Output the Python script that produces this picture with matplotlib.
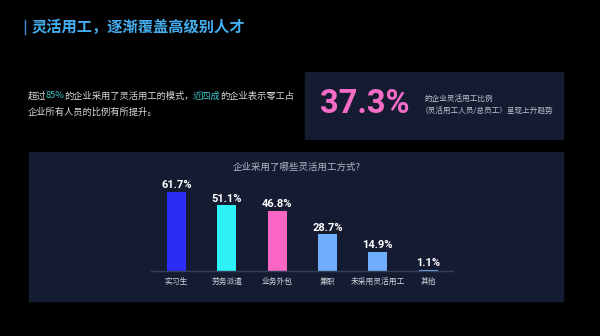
import matplotlib
matplotlib.use('Agg')
import matplotlib.pyplot as plt
from matplotlib.patches import Rectangle

plt.rcParams['font.family'] = ['Noto Sans CJK SC', 'DejaVu Sans']

# dane
categories = ['实习生', '劳务派遣', '业务外包', '兼职', '未采用灵活用工', '其他']
values = [61.7, 51.1, 46.8, 28.7, 14.9, 1.1]
bar_colors = ['#2b2cf5', '#2ef0f7', '#fb66c4', '#6eaefc', '#6eaefc', '#6eaefc']

W, H = 600, 336
fig = plt.figure(figsize=(6, 3.36), dpi=100, facecolor='black')

# warstwa tla w pikselach (y od gory)
bg = fig.add_axes([0, 0, 1, 1])
bg.set_xlim(0, W)
bg.set_ylim(H, 0)
bg.axis('off')

panel = '#151c32'
bg.add_patch(Rectangle((305, 72), 258, 67, color=panel))
bg.add_patch(Rectangle((29, 152), 534, 149, color=panel))

# tytul
bg.plot([25, 25], [20, 34], color='#3a8fd8', lw=1)
bg.text(32, 27, '灵活用工，逐渐覆盖高级别人才', color='#45aef0', fontsize=11,
        fontweight='bold', va='center', ha='left')

# akapit
txt_color = '#d8d8d8'
teal = '#3cc4c8'
parts = [('超过', txt_color), ('85%', teal), ('的企业采用了灵活用工的模式，', txt_color),
         ('近四成', teal), ('的企业表示零工占', txt_color)]
r = fig.canvas.get_renderer()
x = 28
for s, c in parts:
    t = bg.text(x, 96, s, color=c, fontsize=6.7, va='center', ha='left')
    bb = t.get_window_extent(renderer=r)
    x += bb.width - 0.7
bg.text(28, 112, '企业所有人员的比例有所提升。', color=txt_color, fontsize=6.7,
        va='center', ha='left')

# duza liczba
bg.text(320, 104, '37.3%', color='#f46cc6', fontsize=23.5, fontweight='bold',
        va='center', ha='left', family=['Roboto', 'DejaVu Sans'])
bg.text(424, 99, '的企业灵活用工比例', color='#c0c4d0', fontsize=5.5, va='center', ha='left')
bg.text(421, 112, '（灵活用工人员/总员工）呈现上升趋势', color='#c0c4d0', fontsize=5.5,
        va='center', ha='left')

# tytul wykresu
bg.text(297, 167, '企业采用了哪些灵活用工方式?', color='#b4b8c6', fontsize=6.8,
        va='center', ha='center')

# wykres slupkowy
left, right = 151.3, 453.3
base, top = 271, 271 - 70 * 1.283
ax = fig.add_axes([left / W, (H - base) / H, (right - left) / W, (base - top) / H])
ax.set_facecolor('none')
xs = range(len(values))
ax.bar(xs, values, width=0.38, color=bar_colors)
ax.set_xlim(-0.5, len(values) - 0.5)
ax.set_ylim(0, 70)
for i, v in zip(xs, values):
    ax.text(i, v + 1.2, f'{v}%', color='white', fontsize=8, fontweight='bold',
            ha='center', va='bottom', family=['Roboto', 'DejaVu Sans'])
ax.set_xticks(list(xs))
ax.set_xticklabels(categories, color='#d0d4dc', fontsize=5.6)
ax.tick_params(axis='x', length=0, pad=5)
ax.set_yticks([])
for sp in ['top', 'right', 'left']:
    ax.spines[sp].set_visible(False)
ax.spines['bottom'].set_color('#34405a')
ax.spines['bottom'].set_linewidth(1)

fig.savefig('out.png', dpi=100, facecolor='black')
